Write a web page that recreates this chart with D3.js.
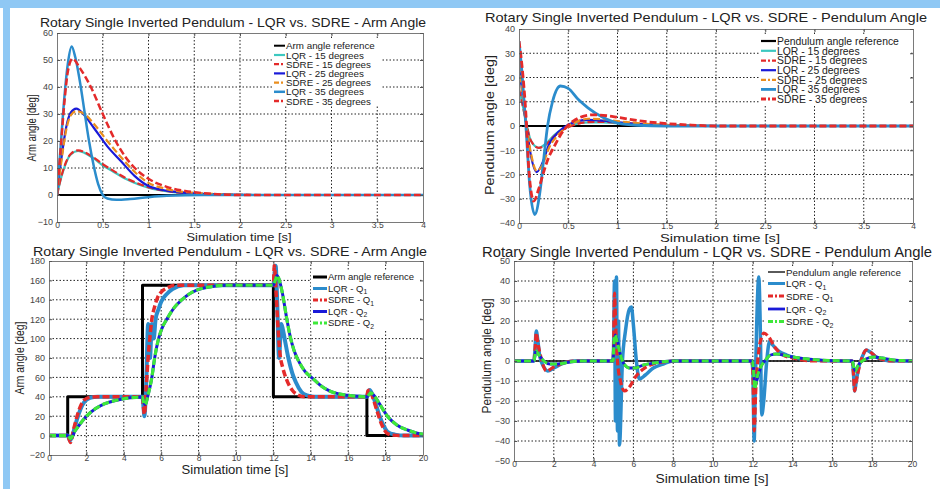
<!DOCTYPE html>
<html>
<head>
<meta charset="utf-8">
<script src="https://cdn.jsdelivr.net/npm/d3@7"></script>
<style>
  body { margin: 0; background: #fff; }
  svg text { font-family: "Liberation Sans", Arial, sans-serif; }
</style>
</head>
<body>
<div id="chart"></div>
<script>
// ---- top left: arm angle, initial pendulum angles (time in s, angle in deg)
const armRefT = [0, 4];
const armRef = [0, 0];
const armT15 = [0, 0.05, 0.1, 0.15, 0.23, 0.3, 0.4, 0.5, 0.6, 0.75, 0.9, 1.0, 1.25, 1.5, 1.8, 2.2, 4];
const armLqr15 = [0, 7, 12, 15, 16.3, 15.6, 13.6, 11, 9, 6, 3.8, 2.7, 1.1, 0.4, 0.1, 0, 0];
const armSdre15 = [0, 7.2, 12.3, 15.2, 16.5, 15.9, 13.9, 11.4, 9.3, 6.3, 4.1, 2.9, 1.2, 0.5, 0.1, 0, 0];
const armT25 = [0, 0.05, 0.1, 0.15, 0.21, 0.3, 0.4, 0.55, 0.7, 0.85, 1.0, 1.2, 1.5, 1.8, 2.2, 4];
const armLqr25 = [0, 14, 25, 30.5, 32, 29.5, 25, 18, 12.5, 7, 3.3, 1.6, 0.6, 0.2, 0, 0];
const armSdre25 = [0, 13, 24, 29.5, 31, 30, 26.5, 20, 14, 8.5, 4.5, 2.2, 0.8, 0.3, 0, 0];
const armT35L = [0, 0.04, 0.08, 0.12, 0.16, 0.2, 0.26, 0.3, 0.35, 0.4, 0.45, 0.5, 0.55, 0.65, 0.8, 1.0, 1.2, 1.6, 4];
const armLqr35 = [0, 18, 36, 49, 55, 51, 40, 31, 20, 11, 4, 0, -1.3, -1.8, -1.5, -0.8, -0.3, 0, 0];
const armT35S = [0, 0.04, 0.08, 0.12, 0.17, 0.25, 0.37, 0.5, 0.64, 0.75, 0.85, 1.0, 1.2, 1.4, 1.6, 2.0, 4];
const armSdre35 = [0, 17, 34, 46, 50.5, 47, 40, 30, 20, 14, 10, 6, 3, 1.5, 0.7, 0, 0];

// ---- top right: pendulum angle
const pendRefT = [0, 4];
const pendRef = [0, 0];
const pendT15 = [0, 0.03, 0.07, 0.12, 0.2, 0.28, 0.35, 0.45, 0.55, 0.7, 0.85, 1.0, 1.3, 1.6, 2.0, 4];
const pendLqr15 = [15, 10, 2, -6, -9, -7, -4, -1, 0.5, 1.5, 1.5, 1.2, 0.6, 0.2, 0, 0];
const pendSdre15 = [15, 10, 2, -6, -9, -7.5, -4.5, -1.5, 0.3, 1.6, 1.7, 1.4, 0.7, 0.3, 0, 0];
const pendT25 = [0, 0.03, 0.07, 0.12, 0.18, 0.25, 0.3, 0.4, 0.5, 0.6, 0.7, 0.85, 1.0, 1.3, 1.6, 2.0, 4];
const pendLqr25 = [25, 15, 2, -12, -19, -14, -8, -2.5, 0.5, 2, 2.5, 2.2, 1.5, 0.6, 0.2, 0, 0];
const pendSdre25 = [25, 15, 2, -11, -18.5, -15, -9.5, -3.5, 0, 2, 3, 2.8, 2, 0.9, 0.3, 0, 0];
const pendT35L = [0, 0.03, 0.07, 0.11, 0.16, 0.21, 0.25, 0.29, 0.34, 0.42, 0.5, 0.6, 0.7, 0.85, 1.0, 1.2, 1.5, 4];
const pendLqr35 = [35, 22, 0, -25, -36.5, -28, -14, 0, 10, 16.5, 15.5, 11, 7.5, 3.6, 1.2, 0.3, 0, 0];
const pendT35S = [0, 0.03, 0.07, 0.1, 0.15, 0.2, 0.25, 0.3, 0.35, 0.45, 0.55, 0.65, 0.75, 0.9, 1.0, 1.25, 1.5, 1.75, 2.0, 4];
const pendSdre35 = [35, 25, 5, -18, -31, -26, -19, -13, -9, -2, 2, 4, 4.6, 4.2, 3.6, 2, 1, 0.4, 0, 0];

// ---- bottom left: arm angle tracking a step reference
const stepT = [0, 1, 1, 5, 5, 12, 12, 17, 17, 20];
const stepArm = [0, 0, 40, 40, 155, 155, 40, 40, 0, 0];
const trackQ1LqrT = [0, 1, 1.12, 1.3, 1.5, 1.7, 1.9, 2.2, 2.6, 4, 5, 5.05, 5.1, 5.2, 5.3, 5.4, 5.5, 5.6, 5.7, 5.85,
  6.0, 6.3, 6.6, 7.2, 9, 12, 12.05, 12.12, 12.2, 12.3, 12.42, 12.5, 12.6, 12.8, 13.0, 13.2, 13.5, 13.8, 14.2, 16,
  17, 17.07, 17.15, 17.3, 17.5, 17.7, 17.9, 18.1, 18.5, 19, 20];
const trackQ1Lqr = [0, 0, -5, 3, 17, 28, 35, 39, 40, 40, 40, 30, 20, 55, 115, 80, 115, 100, 120, 130,
  138, 146, 151, 155, 155, 155, 165, 175, 140, 80, 115, 110, 100, 80, 65, 55, 45, 41.5, 40, 40,
  40, 45, 47, 42, 31, 19, 10, 4, 1, 0, 0];
const trackQ1SdreT = [0, 1, 1.15, 1.3, 1.5, 1.7, 1.9, 2.2, 2.6, 4, 5, 5.05, 5.1, 5.2, 5.3, 5.4, 5.5, 5.65, 5.8, 6.0,
  6.3, 6.7, 9, 12, 12.05, 12.15, 12.25, 12.35, 12.5, 12.7, 13.0, 13.3, 13.7, 16, 17, 17.05, 17.15, 17.3, 17.5, 17.7,
  17.9, 18.1, 18.4, 18.8, 20];
const trackQ1Sdre = [0, 0, -7, 5, 20, 31, 37, 39.5, 40, 40, 40, 30, 22, 50, 80, 102, 120, 133, 142, 148,
  152, 155, 155, 155, 175, 145, 110, 85, 70, 58, 47, 42, 40, 40, 40, 46, 47, 40, 28, 16,
  7, 2, 0.5, 0, 0];
const trackQ2T = [0, 1, 1.15, 1.4, 1.7, 2.0, 2.5, 3.0, 3.5, 4.0, 4.5, 5, 5.05, 5.15, 5.3, 5.5, 5.65, 5.86, 6.05, 6.3,
  6.7, 7.1, 7.5, 7.9, 8.5, 9.5, 12, 12.1, 12.2, 12.35, 12.5, 12.7, 12.9, 13.1, 13.4, 13.7, 14.1, 14.5, 15, 15.5,
  16, 17, 17.1, 17.2, 17.35, 17.6, 18.1, 18.6, 19.2, 19.6, 20];
const trackQ2Lqr = [0, 0, -3, 5, 13, 20, 28, 33, 36, 38, 39.2, 39.8, 35, 32, 42, 60, 80, 100, 111, 120,
  132, 140, 146, 150, 153, 155, 155, 160, 165, 158, 145, 122, 102, 88, 75, 66, 59, 52, 46, 43,
  41.5, 40, 42, 44, 42, 35, 20, 11, 5.5, 3, 1.5];
const trackQ2Sdre = [0, 0, -3, 5, 13, 20, 28, 33, 36, 38, 39.2, 39.8, 35, 32, 42, 60, 80, 100, 111, 120,
  132, 140, 146, 150, 153, 155, 155, 160, 165, 158, 145, 122, 102, 88, 75, 66, 59, 52, 46, 43,
  41.5, 40, 42, 44, 42, 35, 20, 11, 5.5, 3, 1.5];

// ---- bottom right: pendulum angle while tracking
const swingRefT = [0, 20];
const swingRef = [0, 0];
const swingQ1LqrT = [0, 1, 1.05, 1.12, 1.2, 1.3, 1.5, 1.7, 2.0, 2.4, 3, 4.95, 5.0, 5.05, 5.1, 5.15, 5.2, 5.25, 5.3, 5.45,
  5.6, 5.8, 5.9, 6.0, 6.15, 6.3, 6.6, 7, 7.5, 8, 11.95, 12.0, 12.07, 12.12, 12.2, 12.3, 12.38, 12.45, 12.55, 12.7,
  12.85, 13.0, 13.3, 13.7, 14.2, 15, 16, 17, 17.05, 17.12, 17.2, 17.35, 17.5, 17.7, 17.9, 18.2, 18.6, 19, 20];
const swingQ1Lqr = [0, 0, 5, 15, 10, 2, -3, -5, -3.5, -1.5, 0, 0, 5, 40, -30, 42, -35, 20, -42, 0,
  15, 26, 27, 18, 0, -9, -7, -3.5, -1.5, 0, 0, -5, -40, -15, 20, 42, 15, -27, -20, 0,
  10, 8, 5, 3, 1.5, 0.5, 0, 0, -5, -15, -10, -2, 2, 5.5, 4.5, 2, 0.5, 0, 0];
const swingQ1SdreT = [0, 1, 1.05, 1.12, 1.2, 1.35, 1.63, 2.0, 2.5, 3, 4.97, 5.0, 5.05, 5.12, 5.2, 5.35, 5.55, 5.8, 6.1, 6.5,
  7, 7.5, 8, 11.95, 12.0, 12.07, 12.15, 12.3, 12.45, 12.55, 12.8, 13.1, 13.5, 14, 14.5, 15, 17, 17.05, 17.12, 17.2,
  17.35, 17.5, 17.7, 17.9, 18.2, 18.6, 19, 20];
const swingQ1Sdre = [0, 0, 5, 14, 9, 2, -5, -3, -1, 0, 0, 5, 34, 15, 0, -10, -15, -13, -8, -4,
  -1.5, -0.5, 0, 0, -5, -35, -15, 5, 12, 14, 12, 7, 3, 1.5, 0.5, 0, 0, -5, -15, -10,
  -3, 2, 5.5, 4.5, 2, 0.5, 0, 0];
const swingQ2T = [0, 1, 1.1, 1.25, 1.5, 1.8, 2.2, 2.8, 3.5, 4.98, 5.02, 5.08, 5.2, 5.35, 5.5, 5.8, 6.1, 6.5, 7, 8,
  11.98, 12.03, 12.1, 12.2, 12.4, 12.6, 12.9, 13.2, 13.6, 14, 14.5, 15, 16, 17, 17.05, 17.15, 17.3, 17.5, 17.8, 18.1,
  18.5, 19, 19.5, 20];
const swingQ2Lqr = [0, 0, 5, 3, 0, -1.5, -1.5, -0.5, 0, 0, 8, 13, 10, 3, -1, -3.5, -3.5, -2, -1, 0,
  0, -3, -13, -10, -3, 0, 3, 3.5, 2.8, 2, 1.3, 0.8, 0.2, 0, -2, -5, -2, 0, 1.5, 2,
  1.5, 0.6, 0.2, 0];
const swingQ2Sdre = [0, 0, 5, 3, 0, -1.5, -1.5, -0.5, 0, 0, 9, 13, 9, 3, -1, -3.5, -3.5, -2, -1, 0,
  0, -4, -14, -9, -3, 0, 3, 3.5, 2.8, 2, 1.3, 0.8, 0.2, 0, -2, -5, -2, 0, 1.5, 2,
  1.5, 0.6, 0.2, 0];

// tick labels
const shortTimeTicks = [0, 0.5, 1, 1.5, 2, 2.5, 3, 3.5, 4];
const longTimeTicks = [0, 2, 4, 6, 8, 10, 12, 14, 16, 18, 20];
const armTicksA = [-10, 0, 10, 20, 30, 40, 50, 60];
const pendTicksB = [-40, -30, -20, -10, 0, 10, 20, 30, 40];
const armTicksC = [-20, 0, 20, 40, 60, 80, 100, 120, 140, 160, 180];
const pendTicksD = [-50, -40, -30, -20, -10, 0, 10, 20, 30, 40, 50];

const BLACK = "#000", TEAL = "#3cc8c0", RED = "#e42a2a", NAVY = "#1a1ad8",
      ORANGE = "#ea8e1e", STEEL = "#2b8ccc", GREEN = "#3ee83a";
const DASH = "7,3";

const width = 940, height = 489;
const svg = d3.select("#chart").append("svg")
  .attr("width", width)
  .attr("height", height);

// light blue frame of the original figure
svg.append("rect").attr("x", 0).attr("y", 0).attr("width", width).attr("height", 8).attr("fill", "#8fc8f4");
svg.append("rect").attr("x", 3).attr("y", 0).attr("width", 7).attr("height", height).attr("fill", "#8fc8f4");

const panels = [
  {
    id: "a", left: 57, right: 423, top: 33, bottom: 222,
    xDomain: [0, 4], yDomain: [-10, 60], xTicks: shortTimeTicks, yTicks: armTicksA,
    title: "Rotary Single Inverted Pendulum - LQR vs. SDRE - Arm Angle",
    titleX: 233, titleY: 26.5, titleLen: 386, titleSize: 13,
    xLabel: { x: 239, y: 241, len: 105, size: 11.5 },
    yLabel: { x: 36, y: 128, len: 67, size: 12, text: "Arm angle [deg]" },
    legend: { x: 272, y: 40, w: 110, h: 66, rows: [45.7, 55, 64.2, 73.4, 82.6, 91.8, 101], line: [274, 285], size: 9.8 },
    series: [
      { name: "Arm angle reference", t: armRefT, v: armRef, color: BLACK, w: 2 },
      { name: "LQR - 15 degrees", t: armT15, v: armLqr15, color: TEAL, w: 2.2 },
      { name: "SDRE - 15 degrees", t: armT15, v: armSdre15, color: RED, w: 2.2, dash: DASH },
      { name: "LQR - 25 degrees", t: armT25, v: armLqr25, color: NAVY, w: 2.2 },
      { name: "SDRE - 25 degrees", t: armT25, v: armSdre25, color: ORANGE, w: 2.2, dash: DASH },
      { name: "LQR - 35 degrees", t: armT35L, v: armLqr35, color: STEEL, w: 2.5 },
      { name: "SDRE - 35 degrees", t: armT35S, v: armSdre35, color: RED, w: 2.5, dash: DASH }
    ]
  },
  {
    id: "b", left: 519, right: 913, top: 29, bottom: 223,
    xDomain: [0, 4], yDomain: [-40, 40], xTicks: shortTimeTicks, yTicks: pendTicksB,
    title: "Rotary Single Inverted Pendulum - LQR vs. SDRE - Pendulum Angle",
    titleX: 706, titleY: 22, titleLen: 442, titleSize: 13.5,
    xLabel: { x: 720, y: 241.5, len: 120, size: 11.5 },
    yLabel: { x: 494, y: 125, len: 140, size: 13, text: "Pendulum angle [deg]" },
    legend: { x: 759, y: 35, w: 150, h: 70, rows: [41, 50.8, 60.6, 70.2, 79.8, 89.4, 99], line: [761, 776], size: 10.4 },
    series: [
      { name: "Pendulum angle reference", t: pendRefT, v: pendRef, color: BLACK, w: 2.2 },
      { name: "LQR - 15 degrees", t: pendT15, v: pendLqr15, color: TEAL, w: 2.2 },
      { name: "SDRE - 15 degrees", t: pendT15, v: pendSdre15, color: RED, w: 2.2, dash: DASH },
      { name: "LQR - 25 degrees", t: pendT25, v: pendLqr25, color: NAVY, w: 2.2 },
      { name: "SDRE - 25 degrees", t: pendT25, v: pendSdre25, color: ORANGE, w: 2.2, dash: DASH },
      { name: "LQR - 35 degrees", t: pendT35L, v: pendLqr35, color: STEEL, w: 2.8 },
      { name: "SDRE - 35 degrees", t: pendT35S, v: pendSdre35, color: RED, w: 2.8, dash: DASH }
    ]
  },
  {
    id: "c", left: 49, right: 423, top: 261, bottom: 455,
    xDomain: [0, 20], yDomain: [-20, 180], xTicks: longTimeTicks, yTicks: armTicksC,
    title: "Rotary Single Inverted Pendulum - LQR vs. SDRE - Arm Angle",
    titleX: 230, titleY: 256, titleLen: 394, titleSize: 13.5,
    xLabel: { x: 235, y: 474, len: 107, size: 12 },
    yLabel: { x: 24, y: 358, len: 73, size: 12, text: "Arm angle [deg]" },
    legend: { x: 311, y: 271, w: 108, h: 60, rows: [277, 288.5, 300, 311.5, 323], line: [313, 327], size: 9.5 },
    series: [
      { name: "Arm angle reference", t: stepT, v: stepArm, color: BLACK, w: 3, step: true },
      { name: "LQR - Q", sub: "1", t: trackQ1LqrT, v: trackQ1Lqr, color: STEEL, w: 4 },
      { name: "SDRE - Q", sub: "1", t: trackQ1SdreT, v: trackQ1Sdre, color: RED, w: 3.5, dash: DASH },
      { name: "LQR - Q", sub: "2", t: trackQ2T, v: trackQ2Lqr, color: NAVY, w: 3 },
      { name: "SDRE - Q", sub: "2", t: trackQ2T, v: trackQ2Sdre, color: GREEN, w: 3.2, dash: DASH }
    ]
  },
  {
    id: "d", left: 514, right: 912, top: 261, bottom: 461,
    xDomain: [0, 20], yDomain: [-50, 50], xTicks: longTimeTicks, yTicks: pendTicksD,
    title: "Rotary Single Inverted Pendulum - LQR vs. SDRE - Pendulum Angle",
    titleX: 707, titleY: 256.5, titleLen: 450, titleSize: 13.8,
    xLabel: { x: 712, y: 483, len: 113, size: 12.5 },
    yLabel: { x: 491, y: 356, len: 115, size: 13, text: "Pendulum angle [deg]" },
    legend: { x: 766, y: 266, w: 143, h: 63, rows: [272, 283.5, 296, 309, 321.5], line: [768, 785], size: 9.8 },
    series: [
      { name: "Pendulum angle reference", t: swingRefT, v: swingRef, color: BLACK, w: 1.3 },
      { name: "LQR - Q", sub: "1", t: swingQ1LqrT, v: swingQ1Lqr, color: STEEL, w: 3.5 },
      { name: "SDRE - Q", sub: "1", t: swingQ1SdreT, v: swingQ1Sdre, color: RED, w: 3.2, dash: DASH },
      { name: "LQR - Q", sub: "2", t: swingQ2T, v: swingQ2Lqr, color: NAVY, w: 2.8 },
      { name: "SDRE - Q", sub: "2", t: swingQ2T, v: swingQ2Sdre, color: GREEN, w: 3, dash: DASH }
    ]
  }
];

function drawPanel(p) {
  const g = svg.append("g");
  const x = d3.scaleLinear().domain(p.xDomain).range([p.left, p.right]);
  const y = d3.scaleLinear().domain(p.yDomain).range([p.bottom, p.top]);

  // dotted grid
  g.selectAll(".vgrid").data(p.xTicks.slice(1, -1)).enter().append("line")
    .attr("x1", d => x(d)).attr("x2", d => x(d))
    .attr("y1", p.top).attr("y2", p.bottom)
    .attr("stroke", "#222").attr("stroke-width", 1).attr("stroke-dasharray", "1.5,2");
  g.selectAll(".hgrid").data(p.yTicks.slice(1, -1)).enter().append("line")
    .attr("x1", p.left).attr("x2", p.right)
    .attr("y1", d => y(d)).attr("y2", d => y(d))
    .attr("stroke", "#222").attr("stroke-width", 1).attr("stroke-dasharray", "1.5,2");

  // legend background hides the grid behind it
  g.append("rect")
    .attr("x", p.legend.x).attr("y", p.legend.y)
    .attr("width", p.legend.w).attr("height", p.legend.h)
    .attr("fill", "#fff");

  // clipped curves
  g.append("clipPath").attr("id", "clip-" + p.id)
    .append("rect").attr("x", p.left).attr("y", p.top)
    .attr("width", p.right - p.left).attr("height", p.bottom - p.top);

  const lines = g.append("g").attr("clip-path", `url(#clip-${p.id})`);
  p.series.forEach(s => {
    const line = d3.line()
      .x((d, i) => x(s.t[i]))
      .y(d => y(d))
      .curve(s.step ? d3.curveLinear : d3.curveMonotoneX);
    lines.append("path")
      .attr("d", line(s.v))
      .attr("fill", "none")
      .attr("stroke", s.color)
      .attr("stroke-width", s.w)
      .attr("stroke-linejoin", "round")
      .attr("stroke-dasharray", s.dash || null);
  });

  // axes with inward ticks, MATLAB style
  const axisStyle = size => sel => {
    sel.select(".domain").attr("stroke", "#7a7a7a");
    sel.selectAll(".tick line").attr("stroke", "#555");
    sel.selectAll("text").attr("fill", "#444").attr("font-size", size + "px");
  };
  g.append("g").attr("transform", `translate(0,${p.bottom})`)
    .call(d3.axisBottom(x).tickValues(p.xTicks).tickFormat(d3.format("~g")).tickSize(-3).tickSizeOuter(0).tickPadding(0))
    .call(axisStyle(8.5));
  g.append("g").attr("transform", `translate(0,${p.top})`)
    .call(d3.axisTop(x).tickValues(p.xTicks).tickFormat("").tickSize(-3).tickSizeOuter(0))
    .call(axisStyle(9));
  g.append("g").attr("transform", `translate(${p.left},0)`)
    .call(d3.axisLeft(y).tickValues(p.yTicks).tickSize(-3).tickSizeOuter(0).tickPadding(4))
    .call(axisStyle(9));
  g.append("g").attr("transform", `translate(${p.right},0)`)
    .call(d3.axisRight(y).tickValues(p.yTicks).tickFormat("").tickSize(-3).tickSizeOuter(0))
    .call(axisStyle(9));

  // title and axis labels
  g.append("text")
    .attr("x", p.titleX).attr("y", p.titleY)
    .attr("text-anchor", "middle")
    .attr("font-size", p.titleSize + "px")
    .attr("fill", "#222")
    .attr("textLength", p.titleLen).attr("lengthAdjust", "spacingAndGlyphs")
    .text(p.title);
  g.append("text")
    .attr("x", p.xLabel.x).attr("y", p.xLabel.y)
    .attr("text-anchor", "middle")
    .attr("font-size", p.xLabel.size + "px")
    .attr("fill", "#222")
    .attr("textLength", p.xLabel.len).attr("lengthAdjust", "spacingAndGlyphs")
    .text("Simulation time [s]");
  g.append("text")
    .attr("transform", `translate(${p.yLabel.x},${p.yLabel.y}) rotate(-90)`)
    .attr("text-anchor", "middle")
    .attr("font-size", p.yLabel.size + "px")
    .attr("fill", "#222")
    .attr("textLength", p.yLabel.len).attr("lengthAdjust", "spacingAndGlyphs")
    .text(p.yLabel.text);

  // legend entries
  const lg = p.legend;
  p.series.forEach((s, i) => {
    const ry = lg.rows[i];
    g.append("line")
      .attr("x1", lg.line[0]).attr("x2", lg.line[1])
      .attr("y1", ry).attr("y2", ry)
      .attr("stroke", s.color)
      .attr("stroke-width", Math.min(s.w, 3))
      .attr("stroke-dasharray", s.dash ? "5,2,2,2" : null);
    const t = g.append("text")
      .attr("x", lg.line[1] + 1).attr("y", ry + lg.size * 0.36)
      .attr("font-size", lg.size + "px")
      .attr("fill", "#222")
      .text(s.name);
    if (s.sub) {
      t.append("tspan").attr("dy", 2.5).attr("font-size", (lg.size * 0.72) + "px").text(s.sub);
    }
  });
}

panels.forEach(drawPanel);
</script>
</body>
</html>
